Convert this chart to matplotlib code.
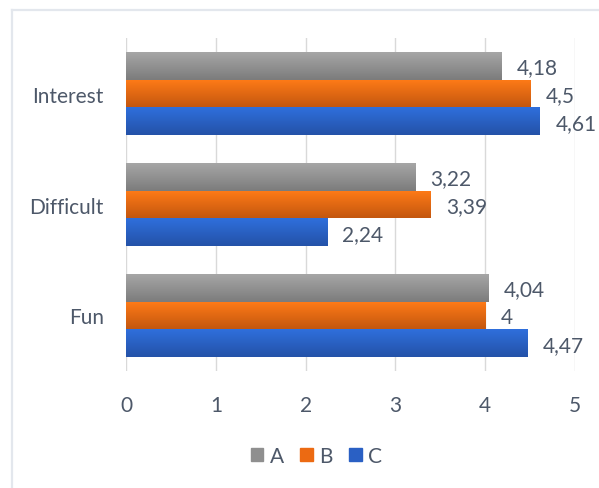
import numpy as np
import matplotlib.pyplot as plt
from matplotlib.lines import Line2D
from matplotlib.colors import LinearSegmentedColormap

categories = ["Fun", "Difficult", "Interest"]
series = ["A", "B", "C"]
values_a = [4.04, 3.22, 4.18]
values_b = [4.0, 3.39, 4.5]
values_c = [4.47, 2.24, 4.61]

# (top, bottom) shades for the vertical gradient on each bar
shades = {
    "A": ("#a6a6a6", "#7c7c7c"),
    "B": ("#ff7b17", "#c4570f"),
    "C": ("#2f6fdc", "#2452a8"),
}
legend_colors = {"A": "#8f8f8f", "B": "#ec6a12", "C": "#2a60c4"}
text_color = "#4d5869"
fs = 15

plt.rcParams["font.family"] = ["Lato", "DejaVu Sans"]

fig = plt.figure(figsize=(5.99, 4.89), dpi=100)
ax = fig.add_axes([0.2104, 0.2393, 0.7496, 0.6809])

# chart border: only the top and left edges fall inside the image
border = dict(color="#e3e7ed", linewidth=1.6, transform=fig.transFigure)
fig.add_artist(Line2D([0.02, 0.02], [0.0, 0.9775], **border))
fig.add_artist(Line2D([0.02, 1.0], [0.9775, 0.9775], **border))

y = np.arange(len(categories))
h = 0.25
offsets = {"A": h, "B": 0.0, "C": -h}
data = {"A": values_a, "B": values_b, "C": values_c}

grad = np.linspace(0, 1, 64).reshape(-1, 1)
handles = []
for s in series:
    top, bottom = shades[s]
    cmap = LinearSegmentedColormap.from_list(s, [top, bottom])
    bars = ax.barh(y + offsets[s], data[s], height=h, color=bottom, zorder=2)
    handles.append(plt.Rectangle((0, 0), 1, 1, color=legend_colors[s], label=s))
    for bar, v in zip(bars, data[s]):
        x0, y0 = bar.get_x(), bar.get_y()
        img = ax.imshow(grad, cmap=cmap, aspect="auto", zorder=2.5,
                        extent=(x0, x0 + bar.get_width(), y0, y0 + bar.get_height()),
                        origin="upper")
        img.set_clip_path(bar)
        label = f"{v:g}".replace(".", ",")
        ax.annotate(label, (v, y0 + bar.get_height() / 2), xytext=(11, -1),
                    textcoords="offset points", va="center", ha="left",
                    fontsize=fs, color=text_color, annotation_clip=False)

ax.set_xlim(0, 5)
ax.set_ylim(-0.5, 2.5)
ax.set_xticks(range(6))
ax.set_yticks(y)
ax.set_yticklabels(categories)
ax.tick_params(axis="both", length=0, labelsize=fs, labelcolor=text_color)
ax.tick_params(axis="x", pad=17)
ax.tick_params(axis="y", pad=16)
ax.grid(axis="x", color="#d9d9d9", linewidth=1.0, zorder=0)
for sp in ax.spines.values():
    sp.set_visible(False)

fig.legend(handles=handles, loc="center",
           bbox_to_anchor=(0.528, 0.066), ncol=3, frameon=False,
           handlelength=0.6, handleheight=0.6, handletextpad=0.3,
           columnspacing=0.8, fontsize=fs, labelcolor=text_color)

fig.savefig("out.png", dpi=100)
